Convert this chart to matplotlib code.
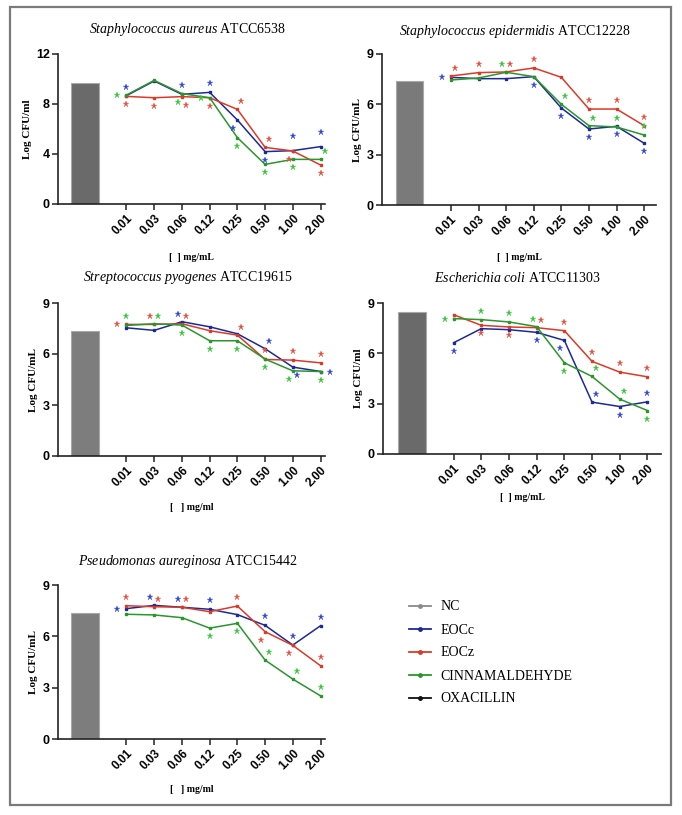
import matplotlib
matplotlib.use('Agg')
import matplotlib.pyplot as plt
from matplotlib.lines import Line2D
from matplotlib.patches import Rectangle
from matplotlib.transforms import ScaledTranslation

plt.rcParams['mathtext.fontset'] = 'custom'
plt.rcParams['mathtext.it'] = 'Liberation Serif:italic'
plt.rcParams['mathtext.rm'] = 'Liberation Serif'

W, H = 682, 815

conc = ['0.01', '0.03', '0.06', '0.12', '0.25', '0.50', '1.00', '2.00']

# ---- data (log CFU/mL) ----
aureus_nc = 9.7
aureus_eocc = [8.67, 9.84, 8.77, 8.93, 6.72, 4.19, 4.27, 4.59]
aureus_eocz = [8.61, 8.50, 8.59, 8.50, 7.57, 4.53, 4.24, 3.12]
aureus_cinn = [8.72, 9.89, 8.83, 8.50, 5.31, 3.17, 3.57, 3.57]
aureus_eocc_st = ['u', '', 'u', 'u', 'dl', 'd', 'U', 'U']
aureus_eocz_st = ['d', 'd', 'dr', 'd', 'ur', 'ur', 'dl', 'd']
aureus_cinn_st = ['l', '', 'dl', 'l', 'd', 'd', 'd', 'ur']

epid_nc = 7.41
epid_eocc = [7.61, 7.53, 7.53, 7.65, 5.78, 4.53, 4.69, 3.68]
epid_eocz = [7.69, 7.89, 7.93, 8.17, 7.61, 5.72, 5.72, 4.73]
epid_cinn = [7.45, 7.57, 7.91, 7.65, 6.00, 4.73, 4.65, 4.17]
epid_eocc_st = ['l', '', '', 'd', 'd', 'd', 'd', 'd']
epid_eocz_st = ['ur', 'u', 'ur', 'u', '', 'u', 'u', 'u']
epid_cinn_st = ['', '', 'ul', '', 'ur', 'ur', 'u', 'u']

pyog_nc = 7.37
pyog_eocc = [7.54, 7.39, 7.90, 7.60, 7.19, 6.31, 5.23, 4.97]
pyog_eocz = [7.74, 7.74, 7.78, 7.37, 7.11, 5.68, 5.64, 5.48]
pyog_cinn = [7.68, 7.78, 7.70, 6.78, 6.78, 5.70, 5.01, 4.97]
pyog_eocc_st = ['', '', 'ul', '', '', 'ur', 'dr', 'r']
pyog_eocz_st = ['l', 'ul', 'ur', '', 'ur', 'u', 'u', 'u']
pyog_cinn_st = ['u', 'ur', 'd', 'd', 'd', 'd', 'dl', 'd']

coli_nc = 8.45
coli_eocc = [6.63, 7.47, 7.41, 7.25, 6.77, 3.09, 2.83, 3.11]
coli_eocz = [8.30, 7.67, 7.57, 7.53, 7.35, 5.52, 4.88, 4.60]
coli_cinn = [8.07, 8.01, 7.87, 7.59, 5.44, 4.62, 3.27, 2.59]
coli_eocc_st = ['d', '', '', 'd', 'dl', 'ur', 'd', 'u']
coli_eocz_st = ['', 'd', 'd', 'ur', 'u', 'u', 'u', 'u']
coli_cinn_st = ['l', 'u', 'u', 'ul', 'd', 'ur', 'ur', 'd']

pseudo_nc = 7.38
pseudo_eocc = [7.62, 7.81, 7.70, 7.58, 7.27, 6.64, 5.49, 6.62]
pseudo_eocz = [7.79, 7.73, 7.70, 7.44, 7.77, 6.27, 5.47, 4.28]
pseudo_cinn = [7.29, 7.25, 7.09, 6.48, 6.76, 4.61, 3.50, 2.52]
pseudo_eocc_st = ['l', 'ul', 'ul', 'u', '', 'u', 'u', 'u']
pseudo_eocz_st = ['u', 'ur', 'ur', '', 'u', 'dl', 'dl', 'u']
pseudo_cinn_st = ['', '', '', 'd', 'd', 'ur', 'ur', 'u']

legend_labels = ['NC', 'EOCc', 'EOCz', 'CINNAMALDEHYDE', 'OXACILLIN']

# ---- styling ----
C_BLUE, C_RED, C_GREEN = '#1b2a96', '#dc3a28', '#2a962c'
S_BLUE, S_RED, S_GREEN = '#3347d6', '#e5523f', '#3cc43c'
OFFS = {'u': (0, 9), 'U': (0, 15), 'd': (0, -8), 'l': (-9, 0), 'r': (9, 0),
        'ur': (4, 8), 'ul': (-4, 8), 'dr': (4, -8), 'dl': (-4, -8)}

panels = [
    dict(sp='Staphylococcus\\ aureus', atcc='ATCC6538', nc=aureus_nc,
         series=[(aureus_eocc, aureus_eocc_st, C_BLUE, S_BLUE),
                 (aureus_eocz, aureus_eocz_st, C_RED, S_RED),
                 (aureus_cinn, aureus_cinn_st, C_GREEN, S_GREEN)],
         ymax=12, yticks=[0, 4, 8, 12], ylab='Log CFU/ml', xlab='[  ] mg/mL',
         box=(58, 325, 54, 204), xlim=(-0.97, 8.66), bar='#6a6a6a', title_y=30,
         xlab_y=258),
    dict(sp='Staphylococcus\\ epidermidis', atcc='ATCC12228', nc=epid_nc,
         series=[(epid_eocc, epid_eocc_st, C_BLUE, S_BLUE),
                 (epid_eocz, epid_eocz_st, C_RED, S_RED),
                 (epid_cinn, epid_cinn_st, C_GREEN, S_GREEN)],
         ymax=9, yticks=[0, 3, 6, 9], ylab='Log CFU/mL', xlab='[  ] mg/mL',
         box=(382, 656, 54, 205), xlim=(-1.0, 8.93), bar='#7a7a7a', title_y=31,
         xlab_y=258),
    dict(sp='Streptococcus\\ pyogenes', atcc='ATCC19615', nc=pyog_nc,
         series=[(pyog_eocc, pyog_eocc_st, C_BLUE, S_BLUE),
                 (pyog_eocz, pyog_eocz_st, C_RED, S_RED),
                 (pyog_cinn, pyog_cinn_st, C_GREEN, S_GREEN)],
         ymax=9, yticks=[0, 3, 6, 9], ylab='Log CFU/mL', xlab='[   ] mg/ml',
         box=(58, 325, 303, 456), xlim=(-0.97, 8.66), bar='#7d7d7d', title_y=278,
         xlab_y=508),
    dict(sp='Escherichia\\ coli', atcc='ATCC11303', nc=coli_nc,
         series=[(coli_eocc, coli_eocc_st, C_BLUE, S_BLUE),
                 (coli_eocz, coli_eocz_st, C_RED, S_RED),
                 (coli_cinn, coli_cinn_st, C_GREEN, S_GREEN)],
         ymax=9, yticks=[0, 3, 6, 9], ylab='Log CFU/ml', xlab='[  ] mg/mL',
         box=(383, 661, 303, 454), xlim=(-1.05, 8.99), bar='#6a6a6a', title_y=278,
         xlab_y=498),
    dict(sp='Pseudomonas\\ aureginosa', atcc='ATCC15442', nc=pseudo_nc,
         series=[(pseudo_eocc, pseudo_eocc_st, C_BLUE, S_BLUE),
                 (pseudo_eocz, pseudo_eocz_st, C_RED, S_RED),
                 (pseudo_cinn, pseudo_cinn_st, C_GREEN, S_GREEN)],
         ymax=9, yticks=[0, 3, 6, 9], ylab='Log CFU/mL', xlab='[   ] mg/ml',
         box=(58, 325, 585, 739), xlim=(-0.97, 8.66), bar='#7d7d7d', title_y=561,
         xlab_y=790),
]


def fx(x):
    return x / W


def fy(y):
    return 1 - y / H


fig = plt.figure(figsize=(W / 100, H / 100), dpi=100)
fig.add_artist(Rectangle((fx(10), fy(805)), fx(661), (805 - 7) / H,
                         transform=fig.transFigure, fill=False,
                         edgecolor='#7a7a7a', lw=1.6))

xpos = [1.5 + i for i in range(len(conc))]

for p in panels:
    x0, x1, ytop, ybot = p['box']
    ax = fig.add_axes([fx(x0), fy(ybot), (x1 - x0) / W, (ybot - ytop) / H])
    ax.bar(0, p['nc'], width=1.0, color=p['bar'], edgecolor='#a8a8a8', lw=0.8,
           zorder=2)
    for vals, stars, c, sc in p['series']:
        ax.plot(xpos, vals, '-', color=c, lw=1.1, marker='s', ms=1.6,
                mec=c, zorder=3)
        for xi, v, code in zip(xpos, vals, stars):
            if not code:
                continue
            dx, dy = OFFS[code]
            tr = ax.transData + ScaledTranslation(dx / 100, dy / 100,
                                                  fig.dpi_scale_trans)
            ax.plot([xi], [v], marker='*', ms=4.6, color=sc, mec=sc, mew=0.2,
                    ls='none', transform=tr, zorder=4, clip_on=False)
    ax.set_xlim(*p['xlim'])
    ax.set_ylim(0, p['ymax'])
    ax.set_yticks(p['yticks'])
    ax.set_xticks(xpos)
    ax.set_xticklabels(conc, rotation=45, ha='right', va='top',
                       rotation_mode='anchor', fontsize=8.5,
                       fontweight='bold', family='Liberation Sans')
    for lab in ax.get_yticklabels():
        lab.set_fontsize(9)
        lab.set_fontweight('bold')
        lab.set_family('Liberation Sans')
    ax.tick_params(direction='out', length=4, width=1.1, color='#222222', pad=2)
    for s in ('top', 'right'):
        ax.spines[s].set_visible(False)
    for s in ('left', 'bottom'):
        ax.spines[s].set_linewidth(1.2)
        ax.spines[s].set_color('#222222')
    ax.set_ylabel(p['ylab'], family='Liberation Serif', fontweight='bold',
                  fontsize=8, labelpad=3)
    cx = (x0 + x1) / 2
    fig.text(fx(cx - 4), fy(p['title_y']),
             r'$\it{' + p['sp'] + r'}$' + ' ' + p['atcc'],
             family='Liberation Serif', fontsize=10, ha='center', va='center')
    fig.text(fx(cx), fy(p['xlab_y']), p['xlab'], family='Liberation Serif',
             fontweight='bold', fontsize=7, ha='center', va='center')

handles = [Line2D([], [], color=c, lw=1.3, marker='o', ms=2.5)
           for c in ('#8a8a8a', C_BLUE, C_RED, C_GREEN, '#111111')]
fig.legend(handles, legend_labels, loc='upper left',
           bbox_to_anchor=(fx(396), fy(588)), frameon=False,
           prop={'family': 'Liberation Serif', 'size': 10},
           handlelength=1.6, handletextpad=0.7, labelspacing=0.72)

fig.savefig('out.png', dpi=100)
